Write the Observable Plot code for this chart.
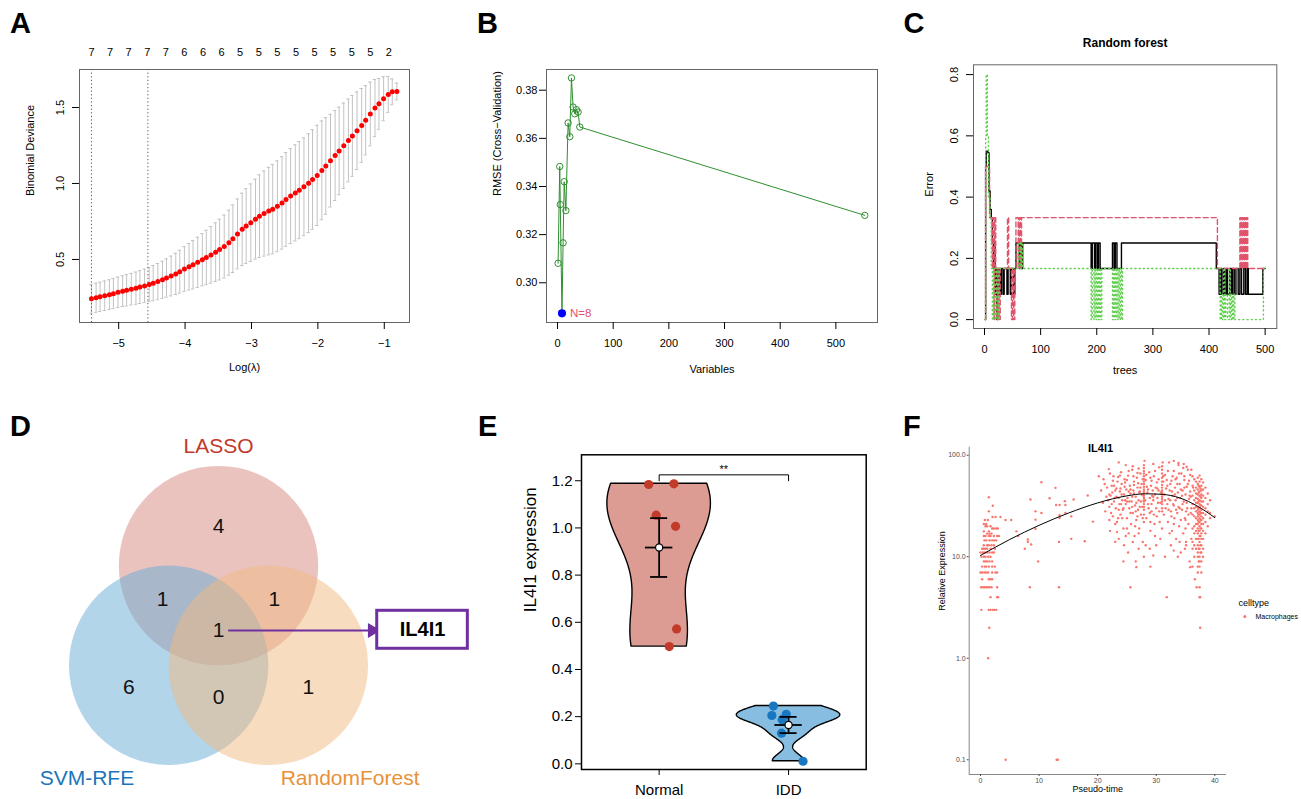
<!DOCTYPE html>
<html><head><meta charset="utf-8"><title>Figure</title>
<script src="https://cdn.jsdelivr.net/npm/d3@7"></script>
<script src="https://cdn.jsdelivr.net/npm/@observablehq/plot@0.6"></script>
<style>
html,body{margin:0;padding:0;background:#fff;}
#root{position:relative;width:1301px;height:799px;overflow:hidden;font-family:"Liberation Sans",Arial,Helvetica,sans-serif;}
.panel{position:absolute;}
.panel svg{display:block;overflow:visible;}
.letter{position:absolute;font-weight:bold;font-size:29px;line-height:29px;color:#000;font-family:"Liberation Sans",Arial,sans-serif;}
</style></head><body><div id="root"></div>
<script>
// ================= DATA =================
// Panel A: LASSO cross-validation
const lassoLogLambda = [-5.41,-5.34,-5.28,-5.21,-5.14,-5.08,-5.01,-4.94,-4.88,-4.81,-4.74,-4.68,-4.61,-4.54,-4.48,-4.41,-4.34,-4.28,-4.21,-4.14,-4.08,-4.01,-3.94,-3.88,-3.81,-3.74,-3.68,-3.61,-3.54,-3.48,-3.41,-3.34,-3.28,-3.21,-3.14,-3.08,-3.01,-2.94,-2.88,-2.81,-2.74,-2.68,-2.61,-2.54,-2.48,-2.41,-2.34,-2.28,-2.21,-2.14,-2.08,-2.01,-1.94,-1.88,-1.81,-1.74,-1.68,-1.61,-1.54,-1.48,-1.41,-1.34,-1.28,-1.21,-1.14,-1.08,-1.01,-0.94,-0.88,-0.81];
const lassoCvm = [0.241,0.248,0.254,0.261,0.268,0.275,0.284,0.291,0.297,0.304,0.311,0.318,0.326,0.335,0.344,0.354,0.366,0.378,0.391,0.405,0.419,0.437,0.452,0.465,0.481,0.498,0.513,0.530,0.548,0.565,0.585,0.610,0.636,0.668,0.698,0.720,0.742,0.765,0.785,0.802,0.818,0.831,0.850,0.872,0.895,0.917,0.938,0.956,0.978,1.002,1.026,1.053,1.086,1.115,1.150,1.184,1.214,1.248,1.283,1.313,1.347,1.382,1.416,1.457,1.496,1.524,1.558,1.586,1.603,1.605];
const lassoCvsd = [0.095,0.096,0.096,0.097,0.098,0.099,0.100,0.101,0.103,0.104,0.106,0.108,0.110,0.113,0.116,0.119,0.122,0.126,0.131,0.136,0.141,0.147,0.153,0.159,0.165,0.172,0.179,0.186,0.193,0.200,0.207,0.214,0.222,0.230,0.238,0.246,0.255,0.263,0.272,0.280,0.288,0.294,0.299,0.304,0.309,0.313,0.316,0.319,0.322,0.325,0.328,0.330,0.325,0.318,0.305,0.296,0.288,0.281,0.273,0.266,0.256,0.243,0.228,0.210,0.188,0.167,0.145,0.118,0.085,0.055];
const lassoNonzero = [7,7,7,7,7,6,6,6,5,5,5,5,5,5,5,5,2];
const lassoNonzeroAt = [-5.41,-5.13,-4.85,-4.57,-4.29,-4.01,-3.73,-3.45,-3.17,-2.89,-2.61,-2.33,-2.05,-1.77,-1.49,-1.21,-0.93];
const lassoSelected = [-5.41,-4.56];
const lassoXTicks = [-5,-4,-3,-2,-1];
const lassoYTicks = [0.5,1.0,1.5];

// Panel B: SVM-RFE
const rfeVariables = [1,4,5,8,10,12,15,19,22,25,28,31,34,37,40,552];
const rfeRMSE = [0.3081,0.3483,0.3325,0.2873,0.3166,0.342,0.330,0.3664,0.3607,0.3851,0.373,0.3702,0.3719,0.3709,0.3647,0.328];
const rfeBest = 8;
const rfeXTicks = [0,100,200,300,400,500];
const rfeYTicks = [0.30,0.32,0.34,0.36,0.38];

// Panel C: Random forest error vs trees (change points)
const rfOOB = [[1,0],[2,0.5],[3,0.55],[6,0.545],[8,0.42],[10,0.36],[12,0.33],[14,0.25],[16,0.167],[18,0.25],[19,0.083],[21,0.167],[22,0],[23,0.167],[25,0.083],[27,0.167],[28,0.083],[30,0.167],[33,0.083],[35,0.167],[40,0.083],[42,0.167],[46,0.083],[48,0.167],[52,0.083],[54,0.167],[56,0.25],[60,0.25],[62,0.167],[64,0.25],[66,0.167],[68,0.25],[190,0.167],[192,0.25],[196,0.167],[198,0.25],[201,0.167],[203,0.25],[206,0.167],[228,0.25],[231,0.167],[233,0.25],[236,0.167],[244,0.25],[413,0.167],[418,0.083],[421,0.167],[423,0.083],[426,0.167],[428,0.083],[431,0.167],[433,0.083],[437,0.167],[440,0.083],[442,0.167],[445,0.083],[448,0.167],[452,0.083],[455,0.167],[458,0.083],[462,0.167],[465,0.083],[468,0.167],[470,0.083],[496,0.167],[500,0.167]];
const rfClass1 = [[1,0],[2,0.5],[8,0.5],[9,0.333],[12,0.333],[14,0.167],[15,0.333],[17,0],[18,0.333],[20,0.167],[22,0],[24,0.167],[26,0],[28,0.167],[41,0.333],[43,0.167],[48,0],[50,0.167],[52,0],[54,0.167],[56,0.333],[60,0.167],[62,0.333],[64,0.167],[66,0.333],[415,0.167],[455,0.333],[457,0.167],[459,0.333],[461,0.167],[463,0.333],[465,0.167],[467,0.333],[469,0.167],[500,0.167]];
const rfClass2 = [[1,0],[2,0.6],[3,0.8],[5,0.6],[7,0.4],[10,0.333],[12,0.167],[14,0],[16,0.167],[19,0],[21,0.167],[24,0],[26,0.167],[56,0.167],[60,0.25],[64,0.167],[66,0.25],[68,0.167],[190,0],[192,0.167],[195,0],[197,0.167],[199,0],[201,0.167],[203,0],[205,0.167],[207,0],[209,0.167],[228,0],[230,0.167],[232,0],[234,0.167],[236,0],[238,0.167],[240,0],[242,0.167],[244,0],[246,0.167],[420,0],[422,0.083],[424,0],[426,0.167],[428,0],[430,0.083],[433,0],[436,0.167],[438,0],[440,0.083],[442,0],[444,0.083],[446,0],[497,0.167],[500,0.167]];
const rfXTicks = [0,100,200,300,400,500];
const rfYTicks = [0,0.2,0.4,0.6,0.8];

// Panel D: Venn counts
const vennSets = ["LASSO","SVM-RFE","RandomForest"];
const vennCounts = [4,1,1,1,6,0,1]; // L only, L&S, L&R, all, S only, S&R, R only
const vennHub = "IL4I1";

// Panel E: IL4I1 expression
const exprGroups = ["Normal","IDD"];
const exprNormal = [1.184,1.187,1.054,1.007,0.572,0.497];
const exprIDD = [0.245,0.205,0.21,0.187,0.130,0.011];
const jitterNormal = [-0.081,0.114,-0.023,0.127,0.135,0.078];
const jitterIDD = [-0.117,-0.129,-0.018,-0.049,-0.054,0.112];
const exprSig = "**";
const exprYTicks = [0,0.2,0.4,0.6,0.8,1.0,1.2];

// Panel F: pseudotime scatter
const fEarly = [[1.42,38.6],[2.1,31.8],[1.42,28],[3.41,24.6],[2.56,24.6],[2.05,24.6],[0.74,23],[1.25,23],[0.57,21],[0.97,21],[0.85,20],[1.14,20],[1.71,20],[1.99,19],[2.28,19],[2.67,19],[2.96,19],[0.57,17.8],[1.42,17.8],[1.14,16.9],[1.54,16.9],[1.88,16.9],[0.57,16],[0.85,16],[1.42,16],[1.71,16],[2.28,16],[2.84,16],[3.13,16],[0.68,14.5],[0.97,14.5],[1.54,14.5],[1.99,14.5],[2.33,14.5],[2.67,14.5],[0.57,13],[1.14,13],[1.42,13],[1.88,13],[2.28,13],[0.28,12],[0.57,12],[0.85,12],[1.14,12],[1.71,12],[2.45,12],[0,11],[0.4,11],[0.74,11],[1.14,11],[1.54,11],[1.99,11],[2.28,11],[0.17,10],[0.57,10],[0.85,10],[1.31,10],[1.71,10],[0.57,9],[0.85,9],[1.14,9],[1.54,9],[1.99,9],[0.28,8],[0.74,8],[0.97,8],[1.42,8],[1.99,8],[2.45,8],[0,7],[0.28,7],[0.68,7],[0.97,7],[1.31,7],[1.99,7],[2.56,7],[2.84,7],[0.28,6],[1.42,6],[1.71,6],[1.99,6],[0.11,5],[0.4,5],[0.68,5],[0.97,5],[1.25,5],[1.54,5],[1.88,5],[2.84,5],[1.71,4],[2.84,4],[3.0,4],[0.15,3],[1.4,3],[1.7,3],[2.1,3],[2.4,3],[2.7,3],[1.5,2],[1.3,1],[4.3,0.1]];
const fMid = [[4.27,23],[5.24,23],[6.14,17.8],[6.43,16],[8.08,14.8],[8.08,14],[8.65,13.2],[7.56,12],[8.53,36.6],[10.4,54.3],[9.84,9],[9.39,28],[9.39,23.2],[9.39,18.9],[10.4,27],[8.42,5],[12.8,47.7],[11.8,37.7],[12.9,32.3],[13.5,32.3],[14.4,35.3],[14.5,32.3],[13.5,25.7],[13.5,24.1],[14.5,27],[15.5,25],[15.9,36.6],[13.4,14],[15.5,15],[13.4,5],[17.8,14.2],[18.3,40.1],[19.2,22.2],[13.0,0.1],[13.2,0.1]];
const fCloud = [[20.2,62],[20.9,34],[21.2,52],[21.6,48],[21.9,73],[22.0,41],[22.2,40],[22.3,27],[22.5,43],[22.6,56],[22.8,35],[23.0,21],[23.1,30],[23.2,47],[23.3,17.5],[23.3,22],[23.5,61],[23.6,38],[23.7,33],[23.8,44],[23.9,26],[24.0,68],[24.1,52],[24.2,36],[24.3,29],[24.4,19],[24.5,13],[24.5,41],[24.6,58],[24.8,33],[24.9,46],[25.0,24],[25.1,38],[25.2,63],[25.3,17],[25.4,30],[25.5,50],[25.6,42],[25.7,21],[25.8,35],[25.9,72],[26.0,27],[26.1,45],[26.2,55],[26.3,16],[26.4,32],[26.5,39],[26.6,23],[26.7,60],[26.8,48],[26.9,29],[27.0,36],[27.1,19],[27.2,44],[27.3,66],[27.4,26],[27.5,52],[27.6,31],[27.7,14],[27.8,40],
[22.4,50],[22.9,38],[23.4,55],[23.6,29],[23.9,47],[24.2,24],[24.7,36],[25.0,57],[25.3,44],[25.6,27],[25.9,39],[26.1,62],[26.4,20],[26.6,34],[26.9,53],[27.2,31],[27.5,41],[27.7,58],[22.0,31],[22.7,62],[23.0,45],[24.0,33],[24.6,49],[25.4,35],[26.2,42],[26.8,25],[27.3,48],[21.5,39],[22.1,18],[24.8,16],[26.0,14],[27.0,12],[25.2,11],[23.6,15],[26.5,9],[22.6,25],
[28.2,57],[28.3,24],[28.5,43],[28.6,33],[28.8,68],[28.9,38],[29.0,18],[29.1,50],[29.2,28],[29.4,45],[29.5,36],[29.6,62],[29.7,21],[29.8,41],[30.0,30],[30.1,54],[30.2,47],[30.3,34],
[28.4,49],[28.7,30],[29.0,60],[29.3,40],[29.6,26],[29.9,48],[30.2,38],[30.4,58],[30.6,22],[30.8,43],[28.1,36],[29.2,33],[30.5,28],[29.8,16],[28.9,12],
[31.3,26],[31.4,41],[31.5,64],[31.6,30],[31.9,50],[32.0,22],[32.1,37],[32.2,85],[32.3,45],[32.5,28],[32.6,56],[32.7,18],[32.8,40],[32.9,33],[33.0,70],[33.1,24],[33.2,48],[33.3,36],[33.4,15],[33.5,60],[33.6,27],[33.7,43],[33.8,31],[33.9,20],[34.0,52],[34.1,38],[34.2,11],[34.3,66],[34.4,29],[34.5,45],[34.6,17],[34.7,35],[34.8,57],[34.9,24],[35.0,41],[35.1,13],[35.2,49],[35.3,30],[35.4,72],[35.5,21],[35.6,37],[35.7,9],[35.8,44],[35.9,27],[36.0,15],
[31.2,55],[31.7,47],[32.4,36],[32.8,62],[33.2,41],[33.6,52],[34.0,30],[34.4,40],[34.8,48],[35.2,34],[35.6,56],[35.9,39],[31.9,33],[32.6,25],[33.4,29],[34.2,23],[35.0,19],[35.5,26],[33.8,80],[34.6,75],[32.0,70],[35.8,64],[33.0,88],[35.2,77],[36.0,72],[32.3,17],[34.9,12],
[23.6,85],[28.0,88],[31.1,85],[26.0,78],[29.5,82],[24.8,80],[30.5,76],[27.0,74],[33.8,84],[34.7,82],
[24.4,9],[25.6,5],[26.6,7.9],[28.2,13],[29.5,10.3],[30.7,15],[31.5,10],[33.0,11.5],[33.7,10],[35.1,14],[35.8,7.9],[36.6,6],[36.9,5],[37.5,4],[37.5,2],[31.8,4],[27.9,10],[29.0,8],[32.5,13],
[20.6,45],[21.0,58],[21.3,28],[21.8,36],[22.1,66],[22.4,33],[22.8,50],[23.2,39],[23.5,24],[23.8,63],[24.1,41],[24.4,30],[24.7,54],[25.0,35],[25.3,70],[25.6,46],[25.9,31],[26.2,51],[26.5,28],[26.8,67],[27.1,43],[27.4,35],[27.7,24],[28.3,64],[28.6,46],[28.9,27],[29.2,56],[29.5,39],[29.8,70],[30.1,25],[30.4,45],[30.7,34],[31.2,62],[31.5,36],[31.8,57],[32.1,29],[32.4,52],[32.7,44],[33.0,32],[33.3,58],[33.6,38],[33.9,66],[34.2,46],[34.5,33],[34.8,62],[35.1,28],[35.4,52],[35.7,40],[36.0,30],[36.3,48],[22.0,23],[23.0,14],[25.0,19],[27.0,17],[29.0,22],[31.0,19],[33.0,21],[35.0,23],[30.0,13],[34.0,14]];
const fColumns = [
[27.9,[80,75,70,66,62,58,55,52,49,46,44,42,40,38,36,35,33,31,29,26,22]],
[31.0,[78,72,66,60,55,51,48,45,43,41,39,37,35,33,30,28]],
[36.2,[62,50,40,33,26,19,14,12,8]],
[36.5,[58,45,36,30,25,20,17,13,10]],
[36.8,[55,48,42,38,34,31,28,24,21,18,15,12]],
[37.1,[60,52,46,41,37,34,31,29,27,25,23,21,19,17,15,13,11,10,8,7]],
[37.25,[50,43,35,30,26,22,18,15,12,9]],
[37.4,[63,55,49,44,40,36,33,30,28,26,24,22,20,18,16,14,12,10,9,8,5,4]],
[37.55,[47,39,32,27,23,19,16,13,11]],
[37.7,[58,50,45,41,38,35,32,29,27,25,23,21,19,17,15,13,11,9,7]],
[38.0,[54,46,40,35,31,27,24,21,18,15,12,10]],
[38.4,[48,38,30,26,22,17]],
[38.8,[42,33,28,20]],
[39.2,[36,27,24]],
[40.0,[25]]];
const fSmooth = [[0,10.3],[5,14.8],[10,20.4],[15,26.9],[20,33.9],[25,39.8],[28,41.7],[31,41.2],[34,38.0],[37,31.6],[40,24.3]];
const fXTicks = [0,10,20,30,40];
const fYTicks = [0.1,1,10,100];
const fCellType = "Macrophages";

// ================= HELPERS =================
const FONT = '"Liberation Sans", Arial, Helvetica, sans-serif';
const root = document.getElementById("root");
function place(el, left, top) {
  const d = document.createElement("div");
  d.className = "panel"; d.style.left = left + "px"; d.style.top = top + "px";
  d.appendChild(el); root.appendChild(d);
}
function letter(t, left, top) {
  const d = document.createElement("div");
  d.className = "letter"; d.style.left = left + "px"; d.style.top = top + "px";
  d.textContent = t; root.appendChild(d);
}
const baseStyle = (size) => ({fontFamily: FONT, fontSize: size, color: "#000", background: "none", overflow: "visible"});

// ================= PANEL A =================
const dataA = lassoLogLambda.map((x, i) => ({x, m: lassoCvm[i], lo: lassoCvm[i] - lassoCvsd[i], hi: lassoCvm[i] + lassoCvsd[i]}));
const capA = 0.025;
place(Plot.plot({
  width: 430, height: 360, marginLeft: 79, marginRight: 21, marginTop: 39, marginBottom: 68,
  style: baseStyle("11px"),
  x: {domain: [-5.59, -0.62]}, y: {domain: [0.085, 1.75]},
  marks: [
    Plot.ruleX(dataA, {x: "x", y1: "lo", y2: "hi", stroke: "#c2c2c2", strokeWidth: 1}),
    Plot.ruleY(dataA, {y: "hi", x1: d => d.x - capA, x2: d => d.x + capA, stroke: "#c2c2c2"}),
    Plot.ruleY(dataA, {y: "lo", x1: d => d.x - capA, x2: d => d.x + capA, stroke: "#c2c2c2"}),
    Plot.ruleX(lassoSelected, {stroke: "#555", strokeDasharray: "1.2,2.4", strokeWidth: 1}),
    Plot.dot(dataA, {x: "x", y: "m", r: 2.5, fill: "#ff0000"}),
    Plot.frame({stroke: "#666"}),
    Plot.axisX({ticks: lassoXTicks, tickSize: 7, tickPadding: 10, tickFormat: d3.format("d"), label: null, fontSize: 11}),
    Plot.axisY({ticks: lassoYTicks, tickSize: 7, tickPadding: 9, tickRotate: -90, tickFormat: d3.format(".1f"), label: null, fontSize: 11}),
    Plot.text(lassoNonzero, {x: (d, i) => lassoNonzeroAt[i], text: d => String(d), frameAnchor: "top", dy: -21, fontSize: 11}),
    Plot.text(["Log(λ)"], {text: d => d, frameAnchor: "bottom", dy: 48, fontSize: 11}),
    Plot.text(["Binomial Deviance"], {text: d => d, frameAnchor: "left", dx: -49, rotate: -90, fontSize: 11})
  ]
}), 0, 30);

// ================= PANEL B =================
const dataB = rfeVariables.map((n, i) => ({n, r: rfeRMSE[i]}));
const GREEN = "#2f8f2f";
place(Plot.plot({
  width: 440, height: 360, marginLeft: 106, marginRight: 3, marginTop: 39, marginBottom: 68,
  style: baseStyle("11px"),
  x: {domain: [-19.8, 574.8]}, y: {domain: [0.2835, 0.3886]},
  marks: [
    Plot.line(dataB, {x: "n", y: "r", stroke: GREEN, strokeWidth: 1}),
    Plot.dot(dataB, {x: "n", y: "r", r: 3.2, stroke: GREEN, fill: "none", strokeWidth: 1}),
    Plot.dot(dataB, {filter: d => d.n === rfeBest, x: "n", y: "r", r: 3.3, fill: "#0000ff", stroke: "#0000ff"}),
    Plot.text(dataB, {filter: d => d.n === rfeBest, x: "n", y: "r", text: d => "N=" + d.n, dx: 8, textAnchor: "start", fill: "#DF536B", fontSize: 11.5}),
    Plot.frame({stroke: "#666"}),
    Plot.axisX({ticks: rfeXTicks, tickSize: 7, tickPadding: 10, label: null, fontSize: 11}),
    Plot.axisY({ticks: rfeYTicks, tickSize: 7, tickPadding: 2, tickFormat: d3.format(".2f"), label: null, fontSize: 11}),
    Plot.text(["Variables"], {text: d => d, frameAnchor: "bottom", dy: 50, fontSize: 11}),
    Plot.text(["RMSE (Cross\u2212Validation)"], {text: d => d, frameAnchor: "left", dx: -49, rotate: -90, fontSize: 11})
  ]
}), 440, 30);

// ================= PANEL C =================
const toPts = a => a.map(([t, e]) => ({t, e}));
place(Plot.plot({
  width: 421, height: 360, marginLeft: 93, marginRight: 24.7, marginTop: 34.3, marginBottom: 62,
  style: baseStyle("11px"),
  x: {domain: [-19.6, 520.8]}, y: {domain: [-0.029, 0.832]},
  marks: [
    Plot.line(toPts(rfOOB), {x: "t", y: "e", curve: "step-after", stroke: "#000", strokeWidth: 1.4}),
    Plot.line(toPts(rfClass1), {x: "t", y: "e", curve: "step-after", stroke: "#DF536B", strokeWidth: 1.4, strokeDasharray: "5,3"}),
    Plot.line(toPts(rfClass2), {x: "t", y: "e", curve: "step-after", stroke: "#61D04F", strokeWidth: 1.4, strokeDasharray: "1.2,3"}),
    Plot.frame({stroke: "#666"}),
    Plot.axisX({ticks: rfXTicks, tickSize: 7, tickPadding: 10, label: null, fontSize: 11}),
    Plot.axisY({ticks: rfYTicks, tickSize: 7, tickPadding: 9, tickRotate: -90, tickFormat: d3.format(".1f"), label: null, fontSize: 11}),
    Plot.text(["Random forest"], {text: d => d, frameAnchor: "top", dy: -26, fontSize: 12, fontWeight: "bold"}),
    Plot.text(["trees"], {text: d => d, frameAnchor: "bottom", dy: 45, fontSize: 11}),
    Plot.text(["Error"], {text: d => d, frameAnchor: "left", dx: -44, rotate: -90, fontSize: 11})
  ]
}), 880, 30);

// ================= PANEL D (Venn) =================
const vennCircleAt = [[0, -0.5], [-0.5, 0.5], [0.5, 0.5]];
const vennFill = ["#d6877f", "#66acd3", "#efb97f"];
const vennLabelColor = ["#c0392b", "#1b75bb", "#e8913a"];
const vennLabelAt = [[0, -1.695], [-1.32, 1.63], [1.32, 1.63]];
const vennRegionAt = [[0, -0.89], [-0.56, -0.16], [0.56, -0.16], [0, 0.15], [-0.9, 0.72], [0, 0.82], [0.9, 0.72]];
const PURPLE = "#7030a0";
const circles = vennSets.map((s, i) => ({s, x: vennCircleAt[i][0], y: vennCircleAt[i][1], fill: vennFill[i], lab: vennLabelColor[i], lx: vennLabelAt[i][0], ly: vennLabelAt[i][1]}));
const regions = vennCounts.map((c, i) => ({c, x: vennRegionAt[i][0], y: vennRegionAt[i][1]}));
const hubBox = {x1: 1.592, x2: 2.501, y1: -0.047, y2: 0.334};
place(Plot.plot({
  width: 480, height: 379, margin: 0,
  style: baseStyle("21px"),
  x: {domain: [-2.187, 2.628], axis: null},
  y: {domain: [-1.956, 1.846], range: [0, 379], axis: null},
  marks: [
    ...circles.map(c => Plot.dot([c], {x: "x", y: "y", r: 99.7, fill: c.fill, fillOpacity: 0.5, stroke: "none"})),
    Plot.text(regions, {x: "x", y: "y", text: d => String(d.c), fontSize: 21, fill: "#111"}),
    ...circles.map(c => Plot.text([c], {x: "lx", y: "ly", text: "s", fill: c.lab, fontSize: 21})),
    Plot.link([regions[3]], {x1: d => d.x + 0.097, y1: "y", x2: hubBox.x1 - 0.05, y2: "y", stroke: PURPLE, strokeWidth: 2}),
    Plot.dot([regions[3]], {x: hubBox.x1 - 0.05, y: "y", symbol: "triangle", rotate: 90, r: 4.6, fill: PURPLE, stroke: PURPLE}),
    Plot.rect([hubBox], {x1: "x1", x2: "x2", y1: "y1", y2: "y2", fill: "#fff", stroke: PURPLE, strokeWidth: 3}),
    Plot.text([vennHub], {x: (hubBox.x1 + hubBox.x2) / 2, y: (hubBox.y1 + hubBox.y2) / 2, text: d => d, fontSize: 20, fontWeight: "bold", fill: "#000"})
  ]
}), 0, 420);

// ================= PANEL E (violin) =================
function nrd0(v) {
  const s = v.slice().sort(d3.ascending);
  const iqr = d3.quantileSorted(s, 0.75) - d3.quantileSorted(s, 0.25);
  return 0.9 * Math.min(d3.deviation(v), iqr / 1.34) * Math.pow(v.length, -0.2);
}
function kde(v, bw, n) {
  const lo = d3.min(v), hi = d3.max(v);
  return d3.range(n).map(i => {
    const y = lo + (hi - lo) * i / (n - 1);
    return {y, d: d3.sum(v, u => Math.exp(-0.5 * ((y - u) / bw) ** 2))};
  });
}
const groupsE = [
  {vals: exprNormal, jit: jitterNormal, fill: "#dd9c93", pt: "#c23b2a"},
  {vals: exprIDD, jit: jitterIDD, fill: "#86bde0", pt: "#1877c1"}
];
const violinHalf = 0.4;
const marksE = [];
groupsE.forEach((g, gi) => {
  const dens = kde(g.vals, nrd0(g.vals), 256);
  const dmax = d3.max(dens, d => d.d);
  marksE.push(Plot.areaX(dens, {y: "y", x1: d => gi - violinHalf * d.d / dmax, x2: d => gi + violinHalf * d.d / dmax, fill: g.fill, stroke: "#000", strokeWidth: 1.4}));
});
groupsE.forEach((g, gi) => {
  const pts = g.vals.map((v, i) => ({x: gi + g.jit[i], v}));
  marksE.push(Plot.dot(pts, {x: "x", y: "v", r: 4.6, fill: g.pt}));
});
const statsE = groupsE.map((g, gi) => {
  const m = d3.mean(g.vals), se = d3.deviation(g.vals) / Math.sqrt(g.vals.length);
  return {g: gi, m, lo: m - se, hi: m + se};
});
marksE.push(
  Plot.ruleX(statsE, {x: "g", y1: "lo", y2: "hi", stroke: "#000", strokeWidth: 1.8}),
  Plot.ruleY(statsE, {y: "lo", x1: d => d.g - 0.066, x2: d => d.g + 0.066, stroke: "#000", strokeWidth: 1.8}),
  Plot.ruleY(statsE, {y: "hi", x1: d => d.g - 0.066, x2: d => d.g + 0.066, stroke: "#000", strokeWidth: 1.8}),
  Plot.ruleY(statsE, {y: "m", x1: d => d.g - 0.106, x2: d => d.g + 0.106, stroke: "#000", strokeWidth: 1.8}),
  Plot.dot(statsE, {x: "g", y: "m", r: 3.6, fill: "#fff", stroke: "#000", strokeWidth: 1.2})
);
const allExpr = exprNormal.concat(exprIDD);
const bracketTop = d3.max(allExpr) + 0.038, bracketFoot = d3.max(allExpr) + 0.013;
const bracket = [{x: 0, y: bracketFoot}, {x: 0, y: bracketTop}, {x: 1, y: bracketTop}, {x: 1, y: bracketFoot}];
marksE.push(
  Plot.line(bracket, {x: "x", y: "y", stroke: "#000", strokeWidth: 1}),
  Plot.text([exprSig], {x: 0.5, y: bracketTop + 0.022, text: d => d, fontSize: 11}),
  Plot.frame({stroke: "#000", strokeWidth: 1.5}),
  Plot.axisX({ticks: [0, 1], tickFormat: i => exprGroups[i], tickSize: 6, tickPadding: 9, label: null, fontSize: 15}),
  Plot.axisY({ticks: exprYTicks, tickFormat: d3.format(".1f"), tickSize: 6, tickPadding: 3, label: null, fontSize: 15}),
  Plot.text(["IL4I1 expression"], {text: d => d, frameAnchor: "left", dx: -51, rotate: -90, fontSize: 17})
);
place(Plot.plot({
  width: 400, height: 379, marginLeft: 101, marginRight: 14.3, marginTop: 34.3, marginBottom: 30,
  style: baseStyle("15px"),
  x: {domain: [-0.6, 1.6]}, y: {domain: [-0.024, 1.31]},
  marks: marksE
}), 480, 420);

// ================= PANEL F =================
const fXDomain = [-1.93, 42], fYDomain = [0.0716, 120];
const fAll = fEarly.concat(fMid, fCloud, fColumns.flatMap(([x, ys]) => ys.map(y => [x, y])));
place(Plot.plot({
  width: 381, height: 379, marginLeft: 48.7, marginRight: 75, marginTop: 26.7, marginBottom: 25,
  style: baseStyle("7px"),
  x: {domain: fXDomain}, y: {type: "log", domain: fYDomain},
  marks: [
    Plot.dot(fAll, {x: d => d[0], y: d => d[1], r: 1.2, fill: "#F8766D"}),
    Plot.line(fSmooth, {x: d => d[0], y: d => d[1], curve: "monotone-x", stroke: "#000", strokeWidth: 1}),
    Plot.ruleX([fXDomain[0]], {stroke: "#888", strokeWidth: 1}),
    Plot.ruleY([fYDomain[0]], {stroke: "#888", strokeWidth: 1}),
    Plot.axisX({ticks: fXTicks, tickSize: 2, tickPadding: 2, label: null, fontSize: 7, color: "#4d4d4d"}),
    Plot.axisY({ticks: fYTicks, tickSize: 2, tickPadding: 1.5, tickFormat: d3.format(".1f"), label: null, fontSize: 7, color: "#4d4d4d"}),
    Plot.text(["IL4I1"], {text: d => d, frameAnchor: "top", dx: 2.7, dy: -2.7, fontSize: 11, fontWeight: "bold"}),
    Plot.text(["Pseudo-time"], {text: d => d, frameAnchor: "bottom", dy: 17, fontSize: 9}),
    Plot.text(["Relative Expression"], {text: d => d, frameAnchor: "left", dx: -27, rotate: -90, fontSize: 9}),
    Plot.text(["celltype"], {text: d => d, frameAnchor: "right", dx: 12, dy: -7.6, textAnchor: "start", fontSize: 9}),
    Plot.dot([fCellType], {frameAnchor: "right", dx: 18.3, dy: 5.6, r: 1.5, fill: "#F8766D"}),
    Plot.text([fCellType], {text: d => d, frameAnchor: "right", dx: 29, dy: 5.6, textAnchor: "start", fontSize: 7})
  ]
}), 920, 420);

// ================= PANEL LETTERS =================
letter("A", 10, 8.5);
letter("B", 477, 8.5);
letter("C", 903.5, 8.5);
letter("D", 10, 411.5);
letter("E", 478, 411.5);
letter("F", 903, 411.5);
</script></body></html>
